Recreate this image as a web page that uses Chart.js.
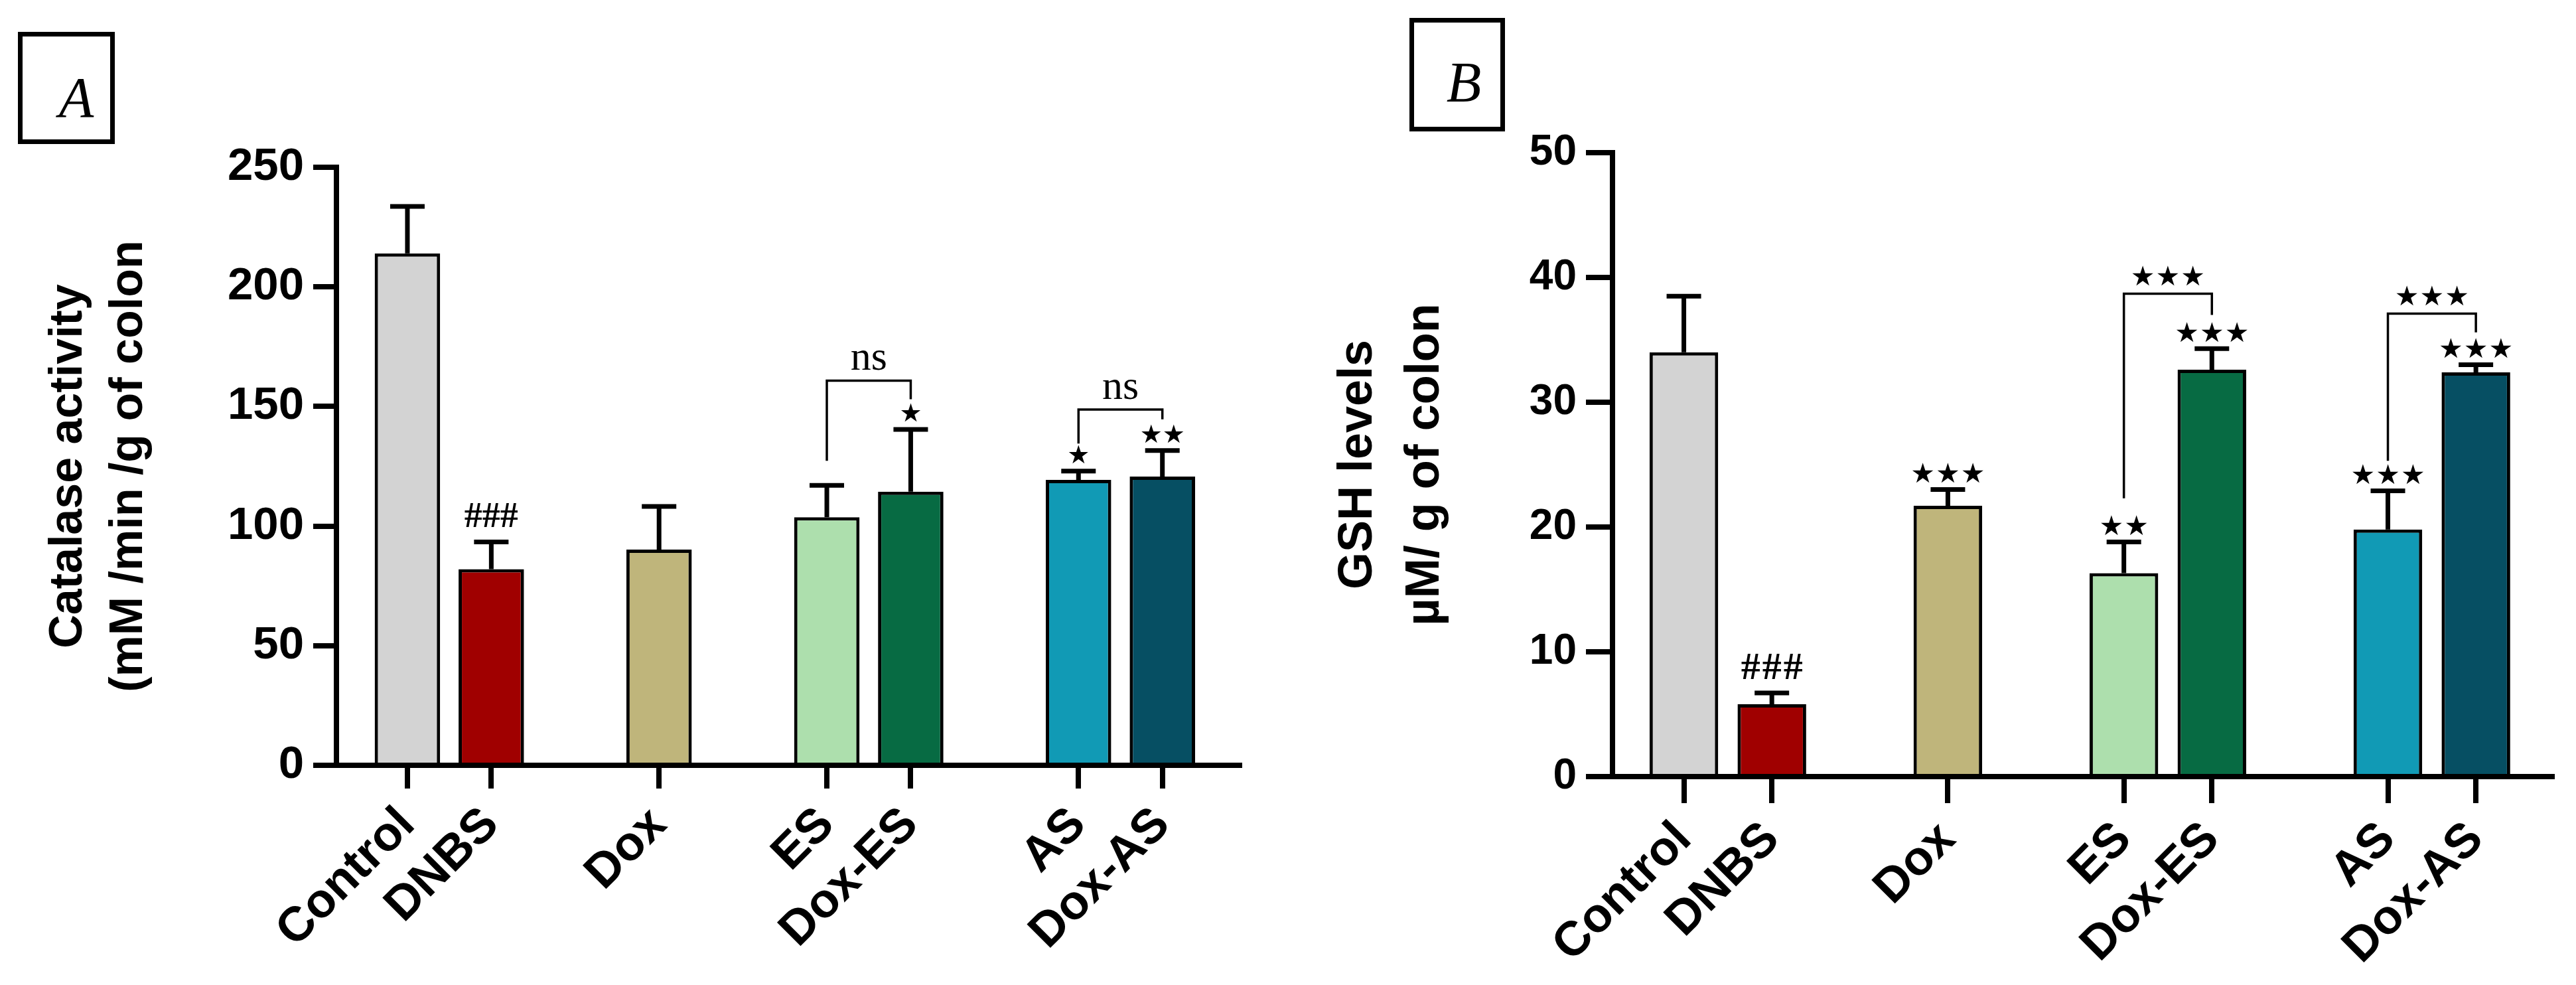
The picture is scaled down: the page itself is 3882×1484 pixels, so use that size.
<!DOCTYPE html>
<html>
<head>
<meta charset="utf-8">
<script src="https://cdn.jsdelivr.net/npm/chart.js@4.4.1/dist/chart.umd.min.js"></script>
<style>
  body { margin: 0; background: #fff; width: 3882px; height: 1484px; position: relative; overflow: hidden; }
  canvas { position: absolute; top: 0; }
  .tag { position: absolute; box-sizing: border-box; border: 7px solid #000; }
  .tag span { position: absolute; transform: translate(-50%, -50%); font: italic 86px 'Liberation Serif', serif; line-height: 86px; }
</style>
</head>
<body>
<div class="tag" style="left:27px;top:48px;width:146px;height:169px"><span style="left:81px;top:92px">A</span></div>
<div class="tag" style="left:2124px;top:27px;width:144px;height:171px"><span style="left:75px;top:90px">B</span></div>
<canvas id="catalase" width="1940" height="1484" style="left:0"></canvas>
<canvas id="gsh" width="1942" height="1484" style="left:1940px"></canvas>
<script>
// groups and where they sit on the x axis (gaps between the families)
const groups = ['Control', 'DNBS', 'Dox', 'ES', 'Dox-ES', 'AS', 'Dox-AS'];
const slots = [0, 1, 3, 5, 6, 8, 9];
const colours = ['#D3D3D3', '#A00000', '#BFB57B', '#ADDFAD', '#076B43', '#119AB5', '#064F63'];

// A - catalase activity
const catalase = [214, 82, 90.2, 103.7, 114.4, 119.3, 120.7];
const catalaseSem = [19.6, 11.4, 18, 13.3, 26, 3.7, 10.9];
const catalaseMarks = ['', '###', '', '', '*', '*', '**'];
const catalasePairs = [[3, 4], [5, 6]];
const catalasePairTop = [160.8, 148.7];
const catalasePairLegs = [[127.3, 153], [134.5, 144.6]];
const catalasePairText = ['ns', 'ns'];
const catalaseTicks = [0, 50, 100, 150, 200, 250];

// B - GSH levels
const gsh = [34.0, 5.8, 21.7, 16.3, 32.6, 19.8, 32.4];
const gshSem = [4.5, 0.9, 1.3, 2.5, 1.7, 3.1, 0.6];
const gshMarks = ['', '###', '***', '**', '***', '***', '***'];
const gshPairs = [[3, 4], [5, 6]];
const gshPairTop = [38.7, 37.1];
const gshPairLegs = [[22.3, 37.0], [25.3, 35.6]];
const gshPairText = ['***', '***'];
const gshTicks = [0, 10, 20, 30, 40, 50];

Chart.defaults.font.family = "'Liberation Sans', Arial, sans-serif";
Chart.defaults.color = '#000';

function centred(ctx, text, x, cy, font, spacing) {
    ctx.font = font;
    ctx.letterSpacing = spacing + 'px';
    ctx.textAlign = 'center';
    ctx.textBaseline = 'alphabetic';
    const m = ctx.measureText(text);
    ctx.fillText(text, x + spacing / 2, cy + (m.actualBoundingBoxAscent - m.actualBoundingBoxDescent) / 2);
}

// the asterisks of the figure are printed as small filled stars
const starred = t => t.replace(/\*/g, '\u2605');

// error bars, significance marks and brackets, all placed through the scales
const notes = {
    id: 'notes',
    afterDatasetsDraw(chart, args, o) {
        const {ctx} = chart;
        const xs = chart.scales.x, ys = chart.scales.y;
        const pts = chart.data.datasets[0].data;
        ctx.save();
        ctx.strokeStyle = '#000';
        ctx.fillStyle = '#000';
        ctx.lineCap = 'butt';
        pts.forEach((d, i) => {
            const px = xs.getPixelForValue(d.x);
            const top = ys.getPixelForValue(d.y + o.sem[i]);
            ctx.lineWidth = 7;
            ctx.beginPath();
            ctx.moveTo(px, ys.getPixelForValue(d.y));
            ctx.lineTo(px, top);
            ctx.moveTo(px - 26, top);
            ctx.lineTo(px + 26, top);
            ctx.stroke();
            const m = o.marks[i];
            if (m) {
                if (m[0] === '#') centred(ctx, m, px, top - 40, o.hashFont, o.hashSpacing);
                else centred(ctx, starred(m), px, top - 25, o.starFont, o.starSpacing);
            }
        });
        o.pairs.forEach((p, k) => {
            const xa = xs.getPixelForValue(slots[p[0]]);
            const xb = xs.getPixelForValue(slots[p[1]]);
            const yt = ys.getPixelForValue(o.pairTop[k]);
            ctx.lineWidth = 3.5;
            ctx.beginPath();
            ctx.moveTo(xa, ys.getPixelForValue(o.pairLegs[k][0]));
            ctx.lineTo(xa, yt);
            ctx.lineTo(xb, yt);
            ctx.lineTo(xb, ys.getPixelForValue(o.pairLegs[k][1]));
            ctx.stroke();
            const t = o.pairText[k];
            if (t === 'ns') centred(ctx, t, (xa + xb) / 2, yt - 30, o.nsFont, 0);
            else centred(ctx, starred(t), (xa + xb) / 2, yt - 27, o.starFont, o.starSpacing);
        });
        ctx.restore();
    }
};

function panel(id, values, sem, yTicks, title, g, n) {
    const axisLine = {offset: false, drawOnChartArea: false, drawTicks: true, tickLength: g.tick, lineWidth: 8, color: '#000'};
    return new Chart(document.getElementById(id), {
        type: 'bar',
        data: {
            datasets: [{
                data: slots.map((s, i) => ({x: s, y: values[i]})),
                backgroundColor: colours,
                borderColor: '#000',
                borderWidth: 5,
                barPercentage: 0.78,
                categoryPercentage: 1
            }]
        },
        options: {
            responsive: false,
            animation: false,
            layout: {padding: {left: 0, top: g.top, right: g.right, bottom: 0}},
            plugins: {legend: {display: false}, tooltip: {enabled: false}, notes: n},
            scales: {
                x: {
                    type: 'linear',
                    offset: false,
                    min: g.xMin,
                    max: g.xMax,
                    afterBuildTicks: s => { s.ticks = slots.map(v => ({value: v})); },
                    afterFit: s => { s.height = g.xHeight; },
                    grid: axisLine,
                    border: {display: true, width: 8, color: '#000'},
                    ticks: {
                        autoSkip: false,
                        minRotation: 45,
                        maxRotation: 45,
                        padding: g.labelPad,
                        font: {size: 73, weight: 'bold'},
                        callback: v => groups[slots.indexOf(v)] ?? ''
                    }
                },
                y: {
                    min: yTicks[0],
                    max: yTicks[yTicks.length - 1],
                    afterBuildTicks: s => { s.ticks = yTicks.map(v => ({value: v})); },
                    afterFit: s => { s.width = g.axisX; },
                    grid: axisLine,
                    border: {display: true, width: 8, color: '#000'},
                    ticks: {padding: 14, font: {size: g.yFont, weight: 'bold'}},
                    title: {
                        display: true,
                        text: title,
                        font: {size: g.titleFont, weight: 'bold', lineHeight: g.titleLine},
                        padding: {top: g.titlePad, bottom: 0}
                    }
                }
            }
        },
        plugins: [notes]
    });
}

panel('catalase', catalase, catalaseSem, catalaseTicks,
    ['Catalase activity', '(mM /min /g of colon'],
    {top: 252, right: 72, xHeight: 331, axisX: 507, xMin: -0.846, xMax: 9.92, tick: 35,
     labelPad: 12, yFont: 69, titleFont: 70, titleLine: 1.3, titlePad: 58},
    {sem: catalaseSem, marks: catalaseMarks, pairs: catalasePairs, pairTop: catalasePairTop,
     pairLegs: catalasePairLegs, pairText: catalasePairText,
     hashFont: "bold 54px 'Liberation Serif'", hashSpacing: 0,
     starFont: "38px 'DejaVu Sans'", starSpacing: 0, nsFont: "62px 'Liberation Serif'"});

panel('gsh', gsh, gshSem, gshTicks,
    ['GSH levels', 'µM/ g of colon'],
    {top: 230, right: 36, xHeight: 314, axisX: 490, xMin: -0.811, xMax: 9.866, tick: 40,
     labelPad: 12, yFont: 64, titleFont: 72, titleLine: 1.4, titlePad: 57},
    {sem: gshSem, marks: gshMarks, pairs: gshPairs, pairTop: gshPairTop,
     pairLegs: gshPairLegs, pairText: gshPairText,
     hashFont: "bold 58px 'Liberation Serif'", hashSpacing: 3,
     starFont: "41px 'DejaVu Sans'", starSpacing: 1, nsFont: "62px 'Liberation Serif'"});
</script>
</body>
</html>
